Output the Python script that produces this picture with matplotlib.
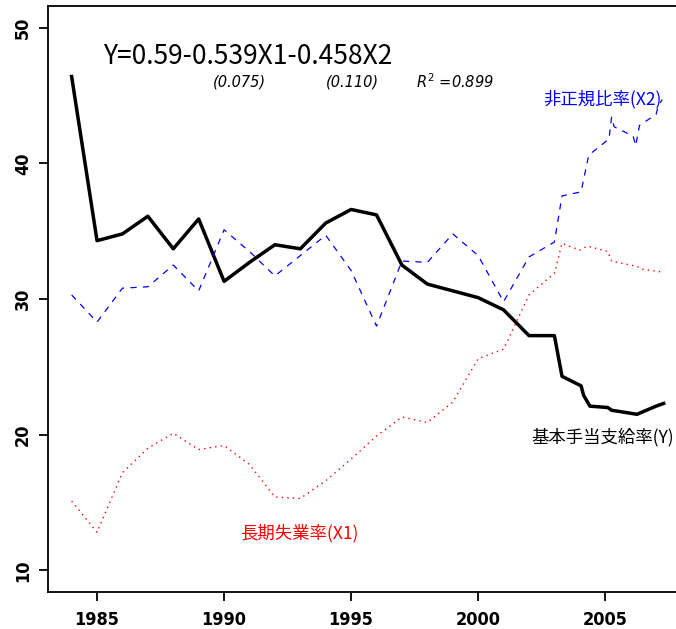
#基本手当支給率と長期失業率・非正規比率の推移

import matplotlib
matplotlib.use('Agg')
import matplotlib.pyplot as plt

# 基本手当支給率 (Y)
year_y = [1984, 1985, 1986, 1987, 1988, 1989, 1990, 1991, 1992, 1993,
          1994, 1995, 1996, 1997, 1998, 1999, 2000, 2001, 2002, 2003,
          2003.3, 2004.05, 2004.15, 2004.4, 2005.1, 2005.25, 2006.25, 2007.0, 2007.3]
rate_y = [46.4, 34.3, 34.8, 36.1, 33.7, 35.9, 31.3, 32.7, 34.0, 33.7,
          35.6, 36.6, 36.2, 32.5, 31.1, 30.6, 30.1, 29.2, 27.3, 27.3,
          24.3, 23.6, 22.9, 22.1, 22.0, 21.8, 21.5, 22.1, 22.3]

# 長期失業率 (X1)
year_x1 = [1984, 1985, 1986, 1987, 1988, 1989, 1990, 1991, 1992, 1993,
           1994, 1995, 1996, 1997, 1998, 1999, 2000, 2001, 2002, 2003,
           2003.3, 2004.0, 2004.3, 2005.1, 2005.25, 2006.25, 2006.45, 2007.2]
rate_x1 = [15.1, 12.8, 17.2, 19.0, 20.1, 18.9, 19.2, 17.8, 15.4, 15.3,
           16.6, 18.2, 19.9, 21.3, 20.9, 22.4, 25.6, 26.3, 30.3, 31.9,
           34.1, 33.6, 33.9, 33.5, 32.8, 32.4, 32.2, 32.0]

# 非正規比率 (X2)
year_x2 = [1984, 1985, 1986, 1987, 1988, 1989, 1990, 1991, 1992, 1993,
           1994, 1995, 1996, 1997, 1998, 1999, 2000, 2001, 2002, 2003,
           2003.3, 2004.05, 2004.35, 2005.15, 2005.25, 2005.35, 2006.1,
           2006.2, 2006.35, 2007.0, 2007.1, 2007.25]
rate_x2 = [30.3, 28.3, 30.8, 30.9, 32.5, 30.6, 35.1, 33.5, 31.7, 33.2,
           34.7, 32.1, 28.0, 32.8, 32.7, 34.8, 33.2, 29.8, 33.1, 34.2,
           37.6, 37.9, 40.6, 41.8, 43.4, 42.7, 42.0, 41.3, 42.8, 43.6, 44.3, 44.7]

xticks = [1985, 1990, 1995, 2000, 2005]
yticks = [10, 20, 30, 40, 50]

jp = ['Noto Sans CJK JP', 'DejaVu Sans']

fig = plt.figure(figsize=(6.76, 6.29), dpi=100)
ax = fig.add_axes([48/676, 37/629, 638/676, 586/629])

ax.plot(year_y, rate_y, color='black', lw=2.5, solid_joinstyle='round')
ax.plot(year_x1, rate_x1, color='red', lw=1.0, dashes=(1, 3))
ax.plot(year_x2, rate_x2, color='blue', lw=0.9, dashes=(5, 5))

ax.set_xlim(1983.07, 2008.18)
ax.set_ylim(8.4, 51.6)
ax.set_xticks(xticks)
ax.set_yticks(yticks)
ax.tick_params(direction='out', length=6.5, width=1.3, labelsize=13, pad=7)
ax.tick_params(axis='y', pad=5)
for lab in ax.get_xticklabels() + ax.get_yticklabels():
    lab.set_family('DejaVu Sans')
    lab.set_fontstretch('condensed')
    lab.set_fontweight('bold')
for lab in ax.get_yticklabels():
    lab.set_rotation(90)
    lab.set_va('center')
for s in ax.spines.values():
    s.set_linewidth(1.3)

ax.text(1990.94, 47.9, 'Y=0.59-0.539X1-0.458X2', family=jp, fontsize=19,
        ha='center', va='center')
ax.text(1990.6, 46.0, '(0.075)', style='italic', fontsize=10.5,
        ha='center', va='center')
ax.text(1995.07, 46.0, '(0.110)', style='italic', fontsize=10.5,
        ha='center', va='center')
ax.text(1999.09, 46.0, r'$R^2$ =0.899', style='italic', fontsize=10.5,
        ha='center', va='center')

ax.text(2004.9, 44.76, '非正規比率(X2)', family=jp, color='blue', fontsize=12.5,
        ha='center', va='center')
ax.text(2004.9, 19.8, '基本手当支給率(Y)', family=jp, color='black', fontsize=12.5,
        ha='center', va='center')
ax.text(1992.95, 12.7, '長期失業率(X1)', family=jp, color='red', fontsize=12.5,
        ha='center', va='center')

fig.savefig('out.png', dpi=100)
